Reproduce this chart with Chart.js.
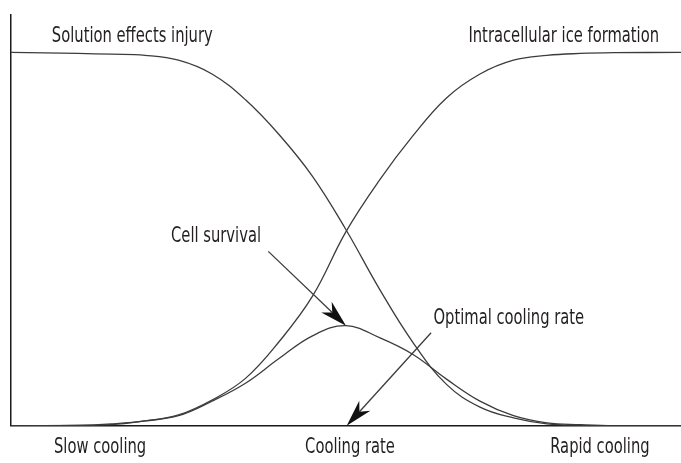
<!DOCTYPE html>
<html>
<head>
<meta charset="utf-8">
<script src="https://cdn.jsdelivr.net/npm/chart.js@4/dist/chart.umd.min.js"></script>
<style>
  html, body { margin: 0; padding: 0; background: #fff; }
  #wrap { width: 681px; height: 463px; }
</style>
</head>
<body>
<div id="wrap"><canvas id="coolingChart"></canvas></div>
<script>
// cooling rate (0 = slow, 100 = rapid)
const coolingRate = [0, 10, 15, 20, 25, 30, 35, 40, 45, 50, 55, 60, 65, 70, 75, 80, 85, 90, 100];
const solutionInjury = [1.0, 0.997, 0.995, 0.992, 0.979, 0.942, 0.873, 0.780, 0.668, 0.525, 0.366, 0.223, 0.111, 0.050, 0.021, 0.005, 0.001, 0, 0];
const iceFormation = [0, 0.001, 0.005, 0.013, 0.029, 0.069, 0.127, 0.225, 0.347, 0.520, 0.658, 0.777, 0.878, 0.942, 0.979, 0.992, 0.997, 0.999, 1.0];
const cellSurvival = [0, 0.001, 0.003, 0.013, 0.027, 0.066, 0.114, 0.180, 0.241, 0.268, 0.236, 0.191, 0.125, 0.066, 0.027, 0.008, 0.003, 0, 0];

const axisTickValues = [13.3, 50.6, 87.9];
const axisTickLabels = ['Slow cooling', 'Cooling rate', 'Rapid cooling'];

const FONT = '"Liberation Sans Narrow", "DejaVu Sans Condensed", "Liberation Sans", sans-serif';
const TEXT_COLOR = '#231f20';
const LINE_COLOR = '#3c3c3c';
const SQUEEZE = 0.78; // the original uses a condensed face

// labels and arrows, placed in data units
const notes = [
  { text: 'Solution effects injury', x: 18.1, y: 1.027 },
  { text: 'Intracellular ice formation', x: 82.5, y: 1.027 },
  { text: 'Cell survival', x: 30.6, y: 0.493 },
  { text: 'Optimal cooling rate', x: 74.3, y: 0.273 }
];
const arrows = [
  { from: [38.4, 0.467], to: [50.0, 0.268] },
  { from: [62.7, 0.249], to: [50.1, 0.0] }
];

const toPoints = vals => coolingRate.map((x, i) => ({ x: x, y: vals[i] }));

function squeezedText(ctx, text, x, y) {
  ctx.save();
  ctx.translate(x, y);
  ctx.scale(SQUEEZE, 1);
  ctx.fillText(text, 0, 0);
  ctx.restore();
}

const annotate = {
  id: 'annotate',
  afterDatasetsDraw(chart) {
    const ctx = chart.ctx;
    const xs = chart.scales.x, ys = chart.scales.y;
    ctx.save();
    ctx.fillStyle = TEXT_COLOR;
    ctx.font = '21px ' + FONT;
    ctx.textAlign = 'center';
    ctx.textBaseline = 'alphabetic';
    notes.forEach(n => {
      squeezedText(ctx, n.text, xs.getPixelForValue(n.x), ys.getPixelForValue(n.y));
    });
    // axis labels, at the x scale's tick positions
    const base = ys.getPixelForValue(0) + 27;
    xs.ticks.forEach((t, i) => {
      squeezedText(ctx, axisTickLabels[i], xs.getPixelForTick(i), base);
    });

    ctx.strokeStyle = LINE_COLOR;
    ctx.fillStyle = '#111';
    ctx.lineWidth = 1.3;
    arrows.forEach(a => {
      const x1 = xs.getPixelForValue(a.from[0]), y1 = ys.getPixelForValue(a.from[1]);
      const x2 = xs.getPixelForValue(a.to[0]), y2 = ys.getPixelForValue(a.to[1]);
      const ang = Math.atan2(y2 - y1, x2 - x1);
      const len = 27, half = 7.5, notch = 19;
      ctx.beginPath();
      ctx.moveTo(x1, y1);
      ctx.lineTo(x2 - Math.cos(ang) * notch, y2 - Math.sin(ang) * notch);
      ctx.stroke();
      ctx.beginPath();
      ctx.moveTo(x2, y2);
      ctx.lineTo(x2 - Math.cos(ang) * len + Math.sin(ang) * half, y2 - Math.sin(ang) * len - Math.cos(ang) * half);
      ctx.lineTo(x2 - Math.cos(ang) * notch, y2 - Math.sin(ang) * notch);
      ctx.lineTo(x2 - Math.cos(ang) * len - Math.sin(ang) * half, y2 - Math.sin(ang) * len + Math.cos(ang) * half);
      ctx.closePath();
      ctx.fill();
    });
    ctx.restore();
  }
};

const lineStyle = {
  borderColor: LINE_COLOR,
  borderWidth: 1.3,
  pointRadius: 0,
  fill: false,
  tension: 0.4
};

new Chart(document.getElementById('coolingChart').getContext('2d'), {
  type: 'line',
  data: {
    datasets: [
      Object.assign({ label: 'Solution effects injury', data: toPoints(solutionInjury) }, lineStyle),
      Object.assign({ label: 'Intracellular ice formation', data: toPoints(iceFormation) }, lineStyle),
      Object.assign({ label: 'Cell survival', data: toPoints(cellSurvival) }, lineStyle)
    ]
  },
  options: {
    responsive: true,
    maintainAspectRatio: false,
    animation: false,
    layout: { padding: { left: 11, right: 0, top: 15, bottom: 0 } },
    scales: {
      x: {
        type: 'linear',
        min: 0,
        max: 100,
        afterBuildTicks: scale => {
          scale.ticks = axisTickValues.map(v => ({ value: v }));
        },
        ticks: {
          autoSkip: false,
          maxRotation: 0,
          padding: 6,
          color: 'rgba(0,0,0,0)', // drawn squeezed by the plugin
          font: { family: FONT, size: 21 },
          callback: (v, i) => axisTickLabels[i]
        },
        grid: { display: false, drawTicks: false },
        border: { display: true, color: '#1a1a1a', width: 1.5 }
      },
      y: {
        min: 0,
        max: 1.1,
        ticks: { display: false },
        grid: { display: false, drawTicks: false },
        border: { display: true, color: '#1a1a1a', width: 1.5 }
      }
    },
    plugins: {
      legend: { display: false },
      tooltip: { enabled: false }
    }
  },
  plugins: [annotate]
});
</script>
</body>
</html>
